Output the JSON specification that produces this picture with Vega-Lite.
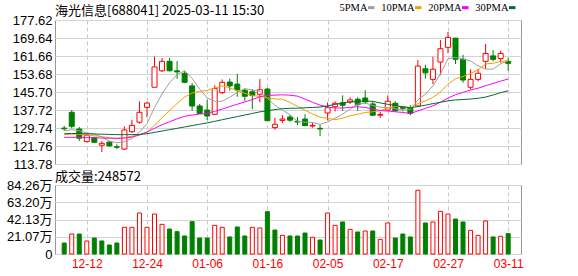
{
  "$schema": "https://vega.github.io/schema/vega-lite/v6.json",
  "background": "white",
  "padding": {"left": 5, "top": 2, "right": 0, "bottom": 0},
  "bounds": "flush",
  "spacing": 21,
  "config": {
    "view": {"stroke": "#999999", "strokeWidth": 1},
    "font": "Liberation Sans, Noto Sans CJK SC",
    "axis": {"labelFlush": false, "labelOverlap": false, "ticks": false, "domain": false, "gridColor": "#d3d3d3", "gridOpacity": 1, "labelColor": "#000000", "title": null}
  },
  "datasets": {
    "k": [
      {"i":0,"d":"12-09","o":129.7,"h":130.7,"l":128.5,"c":129.4,"v":13.4,"up":0,"m5":128.5,"m10":126.8,"m20":125.6,"m30":127.2},
      {"i":1,"d":"12-10","o":136.7,"h":137.7,"l":129.6,"c":130.5,"v":24.4,"up":1,"m5":129.0,"m10":127.0,"m20":125.6,"m30":127.3},
      {"i":2,"d":"12-11","o":129.3,"h":130.2,"l":124.0,"c":125.2,"v":24.4,"up":0,"m5":128.5,"m10":126.9,"m20":125.6,"m30":127.3},
      {"i":3,"d":"12-12","o":123.7,"h":127.2,"l":123.4,"c":126.6,"v":15.9,"up":1,"m5":127.6,"m10":126.7,"m20":125.5,"m30":127.2},
      {"i":4,"d":"12-13","o":125.4,"h":125.9,"l":123.1,"c":123.4,"v":19.5,"up":0,"m5":127.04,"m10":126.3,"m20":125.4,"m30":127.1},
      {"i":5,"d":"12-16","o":122.1,"h":123.85,"l":119.1,"c":122.95,"v":15.9,"up":0,"m5":125.73,"m10":125.9,"m20":125.3,"m30":127.0},
      {"i":6,"d":"12-17","o":123.5,"h":123.85,"l":121.5,"c":121.8,"v":11.0,"up":0,"m5":123.99,"m10":125.4,"m20":125.2,"m30":126.9},
      {"i":7,"d":"12-18","o":121.4,"h":122.5,"l":120.4,"c":121.2,"v":13.4,"up":0,"m5":123.19,"m10":125.0,"m20":125.2,"m30":126.8},
      {"i":8,"d":"12-19","o":120.4,"h":130.5,"l":120.0,"c":128.85,"v":32.6,"up":1,"m5":123.64,"m10":125.5,"m20":125.3,"m30":126.8},
      {"i":9,"d":"12-20","o":128.1,"h":133.4,"l":127.5,"c":130.9,"v":32.6,"up":1,"m5":125.14,"m10":126.09,"m20":125.7,"m30":126.8},
      {"i":10,"d":"12-23","o":132.3,"h":141.6,"l":131.6,"c":136.7,"v":50.1,"up":1,"m5":127.89,"m10":126.81,"m20":126.6,"m30":126.9},
      {"i":11,"d":"12-24","o":138.9,"h":141.4,"l":134.5,"c":140.8,"v":32.6,"up":1,"m5":131.69,"m10":127.84,"m20":128.0,"m30":127.2},
      {"i":12,"d":"12-25","o":147.8,"h":161.4,"l":147.8,"c":156.8,"v":48.8,"up":1,"m5":138.81,"m10":131.0,"m20":129.6,"m30":127.8},
      {"i":13,"d":"12-26","o":155.1,"h":160.8,"l":154.6,"c":159.3,"v":36.2,"up":1,"m5":144.9,"m10":134.27,"m20":131.2,"m30":128.4},
      {"i":14,"d":"12-27","o":159.3,"h":160.8,"l":154.9,"c":155.1,"v":30.5,"up":0,"m5":149.74,"m10":137.44,"m20":132.5,"m30":129.0},
      {"i":15,"d":"12-30","o":155.1,"h":159.4,"l":151.5,"c":154.6,"v":27.3,"up":0,"m5":153.32,"m10":140.61,"m20":133.8,"m30":129.6},
      {"i":16,"d":"12-31","o":154.0,"h":154.9,"l":149.6,"c":150.0,"v":22.0,"up":0,"m5":155.16,"m10":143.43,"m20":134.9,"m30":130.2},
      {"i":17,"d":"01-02","o":148.4,"h":149.6,"l":137.4,"c":139.5,"v":39.5,"up":0,"m5":151.7,"m10":145.26,"m20":135.5,"m30":130.8},
      {"i":18,"d":"01-03","o":139.5,"h":140.4,"l":135.95,"c":136.2,"v":19.5,"up":0,"m5":147.08,"m10":145.99,"m20":135.9,"m30":131.4},
      {"i":19,"d":"01-06","o":137.7,"h":142.2,"l":133.3,"c":135.06,"v":19.5,"up":0,"m5":143.07,"m10":146.41,"m20":136.25,"m30":132.0},
      {"i":20,"d":"01-07","o":135.8,"h":148.7,"l":135.5,"c":147.3,"v":35.0,"up":1,"m5":141.61,"m10":147.47,"m20":137.14,"m30":132.7},
      {"i":21,"d":"01-08","o":145.4,"h":151.3,"l":144.8,"c":150.0,"v":32.6,"up":1,"m5":141.61,"m10":148.39,"m20":138.11,"m30":133.4},
      {"i":22,"d":"01-09","o":150.1,"h":151.6,"l":146.3,"c":148.4,"v":20.8,"up":0,"m5":143.39,"m10":147.55,"m20":139.27,"m30":134.1},
      {"i":23,"d":"01-10","o":149.2,"h":153.7,"l":143.6,"c":146.6,"v":33.0,"up":0,"m5":145.47,"m10":146.28,"m20":140.27,"m30":134.8},
      {"i":24,"d":"01-13","o":146.45,"h":147.3,"l":141.7,"c":143.8,"v":22.0,"up":0,"m5":147.22,"m10":145.15,"m20":141.29,"m30":135.5},
      {"i":25,"d":"01-14","o":145.8,"h":147.0,"l":138.1,"c":144.1,"v":32.6,"up":1,"m5":146.58,"m10":144.1,"m20":142.35,"m30":136.2},
      {"i":26,"d":"01-15","o":144.7,"h":151.5,"l":141.1,"c":146.7,"v":31.8,"up":1,"m5":145.92,"m10":143.77,"m20":143.6,"m30":136.9},
      {"i":27,"d":"01-16","o":147.0,"h":147.6,"l":132.8,"c":133.0,"v":51.7,"up":0,"m5":142.84,"m10":143.12,"m20":144.19,"m30":137.4},
      {"i":28,"d":"01-17","o":129.9,"h":134.3,"l":129.0,"c":131.4,"v":29.3,"up":0,"m5":139.8,"m10":142.64,"m20":144.31,"m30":137.9},
      {"i":29,"d":"01-20","o":133.1,"h":135.5,"l":131.9,"c":133.7,"v":22.8,"up":1,"m5":137.78,"m10":142.5,"m20":144.45,"m30":138.33},
      {"i":30,"d":"01-21","o":134.6,"h":135.5,"l":132.5,"c":133.2,"v":22.0,"up":0,"m5":135.6,"m10":141.09,"m20":144.28,"m30":138.46},
      {"i":31,"d":"01-22","o":132.7,"h":134.6,"l":131.0,"c":132.4,"v":22.0,"up":0,"m5":132.74,"m10":139.33,"m20":143.86,"m30":138.52},
      {"i":32,"d":"01-23","o":133.7,"h":135.8,"l":130.5,"c":130.8,"v":25.6,"up":0,"m5":132.3,"m10":137.57,"m20":142.56,"m30":138.71},
      {"i":33,"d":"01-24","o":130.6,"h":131.95,"l":129.9,"c":130.9,"v":20.4,"up":1,"m5":132.2,"m10":136.0,"m20":141.14,"m30":138.85},
      {"i":34,"d":"01-27","o":129.6,"h":131.1,"l":126.1,"c":129.3,"v":17.1,"up":0,"m5":131.32,"m10":134.55,"m20":139.85,"m30":139.05},
      {"i":35,"d":"02-05","o":136.4,"h":141.1,"l":133.1,"c":138.75,"v":50.1,"up":1,"m5":132.43,"m10":134.02,"m20":139.06,"m30":139.57},
      {"i":36,"d":"02-06","o":139.2,"h":141.6,"l":137.1,"c":140.7,"v":35.0,"up":1,"m5":134.09,"m10":133.42,"m20":138.59,"m30":140.2},
      {"i":37,"d":"02-07","o":140.95,"h":144.2,"l":137.4,"c":139.8,"v":39.1,"up":0,"m5":135.89,"m10":134.1,"m20":138.61,"m30":140.82},
      {"i":38,"d":"02-10","o":141.3,"h":143.35,"l":140.4,"c":142.2,"v":30.1,"up":1,"m5":138.15,"m10":135.18,"m20":138.91,"m30":141.27},
      {"i":39,"d":"02-11","o":142.5,"h":143.35,"l":137.4,"c":140.1,"v":26.9,"up":0,"m5":140.31,"m10":135.82,"m20":139.16,"m30":141.57},
      {"i":40,"d":"02-12","o":143.05,"h":146.6,"l":140.4,"c":141.3,"v":28.1,"up":1,"m5":140.82,"m10":136.63,"m20":138.86,"m30":141.73},
      {"i":41,"d":"02-13","o":140.4,"h":141.6,"l":135.1,"c":135.4,"v":28.1,"up":0,"m5":139.76,"m10":136.93,"m20":138.13,"m30":141.55},
      {"i":42,"d":"02-14","o":135.4,"h":136.9,"l":134.2,"c":135.75,"v":17.9,"up":1,"m5":138.95,"m10":137.42,"m20":137.5,"m30":140.85},
      {"i":43,"d":"02-17","o":137.7,"h":144.2,"l":137.4,"c":141.6,"v":37.9,"up":1,"m5":138.83,"m10":138.49,"m20":137.25,"m30":140.26},
      {"i":44,"d":"02-18","o":140.7,"h":141.6,"l":136.9,"c":137.4,"v":19.5,"up":0,"m5":138.29,"m10":139.3,"m20":136.93,"m30":139.67},
      {"i":45,"d":"02-19","o":138.8,"h":139.5,"l":137.1,"c":138.5,"v":24.4,"up":0,"m5":137.73,"m10":139.28,"m20":136.65,"m30":139.13},
      {"i":46,"d":"02-20","o":138.6,"h":139.8,"l":135.4,"c":136.25,"v":20.8,"up":0,"m5":137.9,"m10":138.83,"m20":136.12,"m30":138.67},
      {"i":47,"d":"02-21","o":139.5,"h":159.9,"l":139.2,"c":157.2,"v":77.8,"up":1,"m5":142.19,"m10":140.57,"m20":137.33,"m30":139.26},
      {"i":48,"d":"02-24","o":156.0,"h":157.8,"l":151.6,"c":154.2,"v":37.9,"up":0,"m5":144.71,"m10":141.77,"m20":138.47,"m30":139.86},
      {"i":49,"d":"02-25","o":151.3,"h":161.35,"l":149.2,"c":155.8,"v":39.1,"up":1,"m5":148.39,"m10":143.34,"m20":139.58,"m30":140.55},
      {"i":50,"d":"02-26","o":159.0,"h":168.75,"l":153.1,"c":164.9,"v":52.1,"up":1,"m5":153.67,"m10":145.7,"m20":141.16,"m30":141.14},
      {"i":51,"d":"02-27","o":165.5,"h":172.3,"l":162.9,"c":169.9,"v":48.8,"up":1,"m5":160.4,"m10":149.15,"m20":143.04,"m30":141.8},
      {"i":52,"d":"02-28","o":169.6,"h":169.6,"l":158.1,"c":160.2,"v":42.7,"up":0,"m5":161.0,"m10":151.6,"m20":144.51,"m30":142.2},
      {"i":53,"d":"03-03","o":160.2,"h":162.2,"l":149.8,"c":151.0,"v":39.1,"up":0,"m5":160.36,"m10":152.54,"m20":145.51,"m30":142.34},
      {"i":54,"d":"03-04","o":147.8,"h":155.8,"l":146.9,"c":151.3,"v":28.9,"up":1,"m5":159.46,"m10":153.93,"m20":146.61,"m30":142.59},
      {"i":55,"d":"03-05","o":151.3,"h":156.0,"l":150.4,"c":154.0,"v":22.8,"up":1,"m5":157.28,"m10":155.48,"m20":147.38,"m30":142.92},
      {"i":56,"d":"03-06","o":159.3,"h":167.0,"l":156.0,"c":162.8,"v":40.3,"up":1,"m5":155.86,"m10":158.13,"m20":148.48,"m30":143.46},
      {"i":57,"d":"03-07","o":161.7,"h":164.3,"l":159.3,"c":160.2,"v":20.8,"up":0,"m5":155.86,"m10":158.43,"m20":149.5,"m30":144.37},
      {"i":58,"d":"03-10","o":160.5,"h":164.0,"l":158.7,"c":162.8,"v":21.6,"up":1,"m5":158.22,"m10":159.29,"m20":150.53,"m30":145.41},
      {"i":59,"d":"03-11","o":159.3,"h":160.8,"l":155.1,"c":158.4,"v":24.86,"up":0,"m5":159.64,"m10":159.55,"m20":151.45,"m30":146.24}
    ]
  },
  "vconcat": [
    {
      "width": 466,
      "height": 144,
      "title": {"text": "海光信息[688041] 2025-03-11 15:30", "anchor": "start", "frame": "group", "font": "Noto Sans CJK SC", "fontSize": 13, "fontWeight": "normal", "color": "#000000", "offset": -4},
      "data": {"name": "k"},
      "encoding": {
        "x": {"field": "i", "type": "quantitative", "scale": {"domain": [-0.56, 60.04], "nice": false, "zero": false},
              "axis": {"values": [3, 11, 19, 27, 35, 43, 51, 59], "tickCount": 8, "labels": false, "grid": true, "gridDash": [4, 3], "gridColor": "#c8c8c8"}}
      },
      "layer": [
        {
          "mark": {"type": "rule", "strokeWidth": 1},
          "encoding": {
            "y": {"field": "l", "type": "quantitative", "scale": {"domain": [113.78, 177.62], "nice": false, "zero": false},
                  "axis": {"values": [113.78, 121.76, 129.74, 137.72, 145.70, 153.68, 161.66, 169.64, 177.62], "tickCount": 9, "format": ".2f", "grid": true, "labelFontSize": 13, "labelPadding": 3, "labelOverlap": false, "labelBound": false}},
            "y2": {"field": "h"},
            "color": {"condition": {"test": "datum.c >= datum.o", "value": "#ff0000"}, "value": "#008000"}
          }
        },
        {
          "mark": {"type": "bar", "width": 5, "strokeWidth": 1},
          "encoding": {
            "y": {"field": "o", "type": "quantitative"},
            "y2": {"field": "c"},
            "fill": {"condition": {"test": "datum.c >= datum.o", "value": "#ffffff"}, "value": "#008000"},
            "stroke": {"condition": {"test": "datum.c >= datum.o", "value": "#ff0000"}, "value": "#008000"}
          }
        },
        {
          "transform": [{"fold": ["m5", "m10", "m20", "m30"], "as": ["ma", "val"]}],
          "mark": {"type": "line", "strokeWidth": 1},
          "encoding": {
            "y": {"field": "val", "type": "quantitative"},
            "color": {"field": "ma", "type": "nominal",
                      "scale": {"domain": ["m5", "m10", "m20", "m30"], "range": ["#a0a0a0", "#f5a000", "#ff00ff", "#006f35"]},
                      "legend": {"orient": "none", "direction": "horizontal", "legendX": 311, "legendY": -18, "title": null,
                                 "symbolType": "stroke", "symbolStrokeWidth": 3, "symbolSize": 42,
                                 "labelFont": "Liberation Serif", "labelFontSize": 10.5, "labelColor": "#000000",
                                 "labelAlign": "right", "labelOffset": -9, "columnPadding": 0,
                                 "labelExpr": "datum.label == 'm5' ? '5PMA' : datum.label == 'm10' ? '10PMA' : datum.label == 'm20' ? '20PMA' : '30PMA'"}}
          }
        }
      ]
    },
    {
      "width": 466,
      "height": 69,
      "title": {"text": "成交量:248572", "anchor": "start", "frame": "group", "font": "Noto Sans CJK SC", "fontSize": 13, "fontWeight": "normal", "color": "#000000", "offset": -5},
      "data": {"name": "k"},
      "mark": {"type": "bar", "width": 4, "strokeWidth": 1},
      "encoding": {
        "x": {"field": "i", "type": "quantitative", "scale": {"domain": [-0.56, 60.04], "nice": false, "zero": false},
              "axis": {"values": [3, 11, 19, 27, 35, 43, 51, 59], "tickCount": 8, "grid": true, "gridDash": [4, 3], "gridColor": "#c8c8c8",
                       "labelExpr": "['12-12','12-24','01-06','01-16','02-05','02-17','02-27','03-11'][(datum.value - 3) / 8]",
                       "labelColor": "#ff0000", "labelFontSize": 12, "labelPadding": 4}},
        "y": {"field": "v", "type": "quantitative", "scale": {"domain": [0, 84.26], "nice": false},
              "axis": {"values": [0, 21.07, 42.13, 63.2, 84.26], "tickCount": 5, "grid": true, "labelFontSize": 13, "labelPadding": 3,
                       "labelExpr": "datum.value == 0 ? '0' : format(datum.value, '.2f') + '万'"}},
        "fill": {"condition": {"test": "datum.up == 1", "value": "#ffffff"}, "value": "#008000"},
        "stroke": {"condition": {"test": "datum.up == 1", "value": "#ff0000"}, "value": "#008000"}
      }
    }
  ]
}
